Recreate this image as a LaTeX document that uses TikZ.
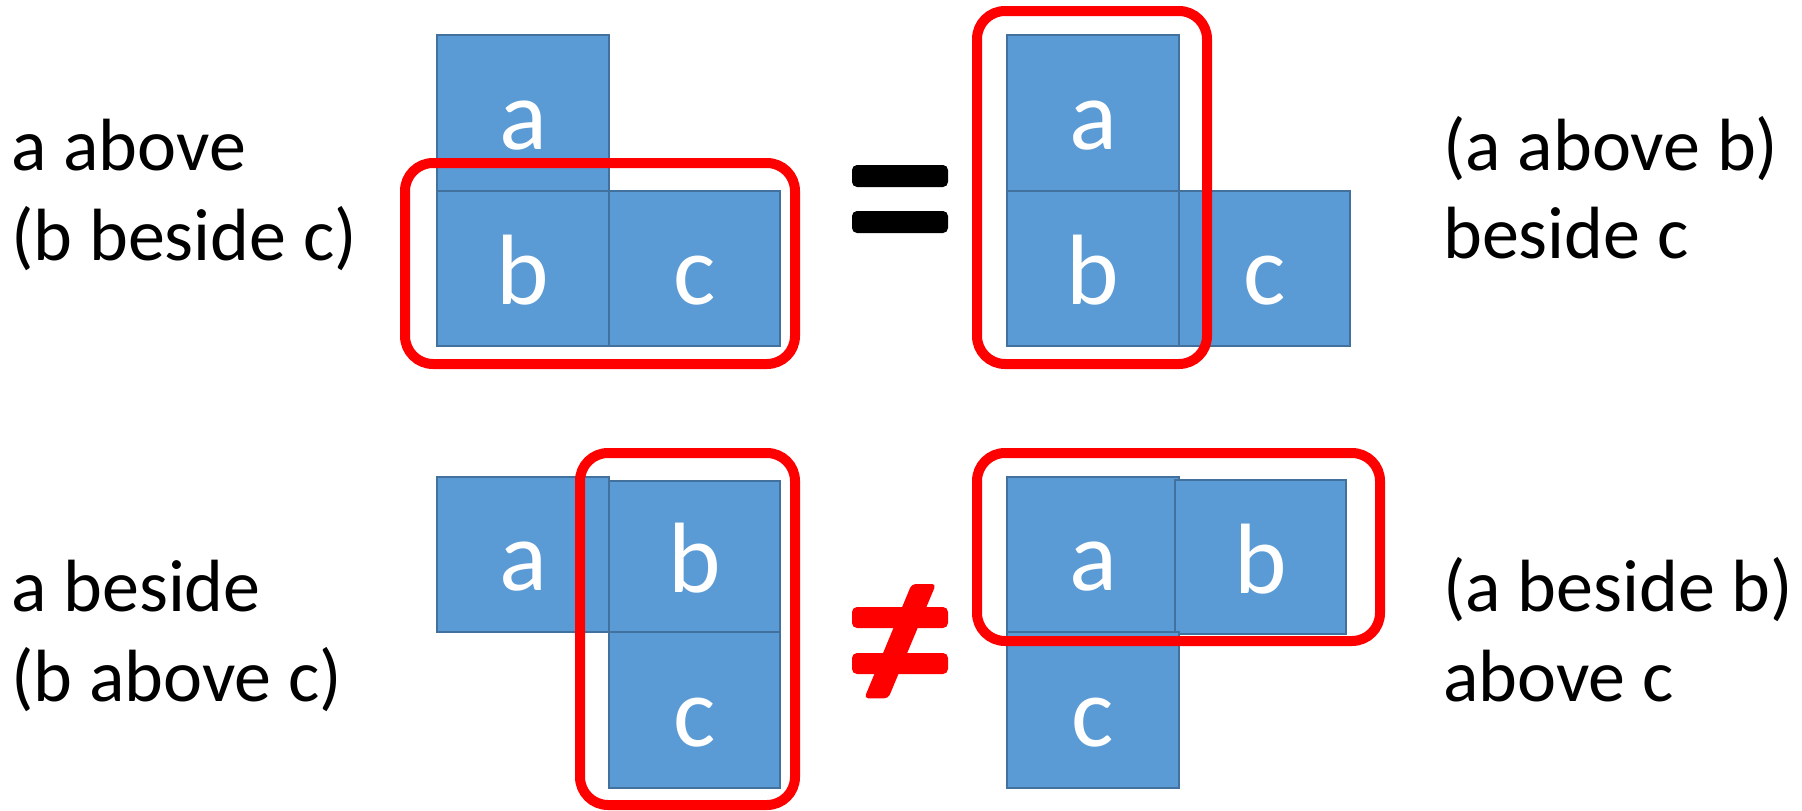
\documentclass[tikz,border=0pt]{standalone}
\usepackage{fontspec}
\setmainfont{Carlito}
\definecolor{boxfill}{HTML}{5B9BD5}
\definecolor{boxline}{HTML}{41719C}
\definecolor{redline}{HTML}{FF0000}
\tikzset{
  blk/.style={draw=boxline, fill=boxfill, line width=1.5pt, inner sep=0pt,
    text=white, font=\fontsize{100}{100}\selectfont, text height=72pt, text depth=0pt},
  grp/.style={draw=redline, line width=10pt, rounded corners=28pt},
  lbl/.style={anchor=base west, inner sep=0pt, font=\fontsize{74}{90}\selectfont},
}
\begin{document}
\begin{tikzpicture}[x=1pt, y=-1pt]
\useasboundingbox (0,0) rectangle (1802,811);
% top-left: a above (b beside c)
\node[blk, minimum width=172pt, minimum height=156pt] (a1) at (523,113) {a};
\node[blk, minimum width=172pt, minimum height=155pt] (b1) at (523,268.5) {b};
\node[blk, minimum width=171pt, minimum height=155pt] (c1) at (694.5,268.5) {c};
% top-right: (a above b) beside c
\node[blk, minimum width=172pt, minimum height=156pt] (a2) at (1093,113) {a};
\node[blk, minimum width=172pt, minimum height=155pt] (b2) at (1093,268.5) {b};
\node[blk, minimum width=171pt, minimum height=155pt] (c2) at (1264.5,268.5) {c};
% bottom-left: a beside (b above c)
\node[blk, minimum width=172pt, minimum height=155pt] (a3) at (523,554.5) {a};
\node[blk, minimum width=171pt, minimum height=151pt] (b3) at (694.5,556.5) {b};
\node[blk, minimum width=171pt, minimum height=156pt] (c3) at (694.5,710) {c};
% bottom-right: (a beside b) above c
\node[blk, minimum width=172pt, minimum height=155pt] (a4) at (1093,554.5) {a};
\node[blk, minimum width=171pt, minimum height=154pt] (b4) at (1260.5,557) {b};
\node[blk, minimum width=172pt, minimum height=156pt] (c4) at (1093,710) {c};
% red groupings
\draw[grp] (405,163) rectangle (795,364);
\draw[grp] (977,11) rectangle (1207,364);
\draw[grp] (580,453) rectangle (795,805);
\draw[grp] (977,453) rectangle (1380,641);
% equal sign
\fill[black, rounded corners=5pt] (852,165) rectangle (948,187);
\fill[black, rounded corners=5pt] (852,211) rectangle (948,233);
% not-equal sign
\fill[redline, rounded corners=5pt] (852,607) rectangle (948,628);
\fill[redline, rounded corners=5pt] (852,653) rectangle (948,674);
\fill[redline, rounded corners=4pt] (911.7,584) -- (936,584) -- (888.3,698.3) -- (864.3,698.3) -- cycle;
% labels
\node[lbl] (t1) at (11,170) {a above};
\node[lbl] (t2) at (11,260) {(b beside c)};
\node[lbl] (t3) at (1443,170) {(a above b)};
\node[lbl] (t4) at (1443,258) {beside c};
\node[lbl] (t5) at (11,611.7) {a beside};
\node[lbl] (t6) at (11,701.7) {(b above c)};
\node[lbl] (t7) at (1443,611.7) {(a beside b)};
\node[lbl] (t8) at (1443,701.7) {above c};
\end{tikzpicture}
\end{document}
